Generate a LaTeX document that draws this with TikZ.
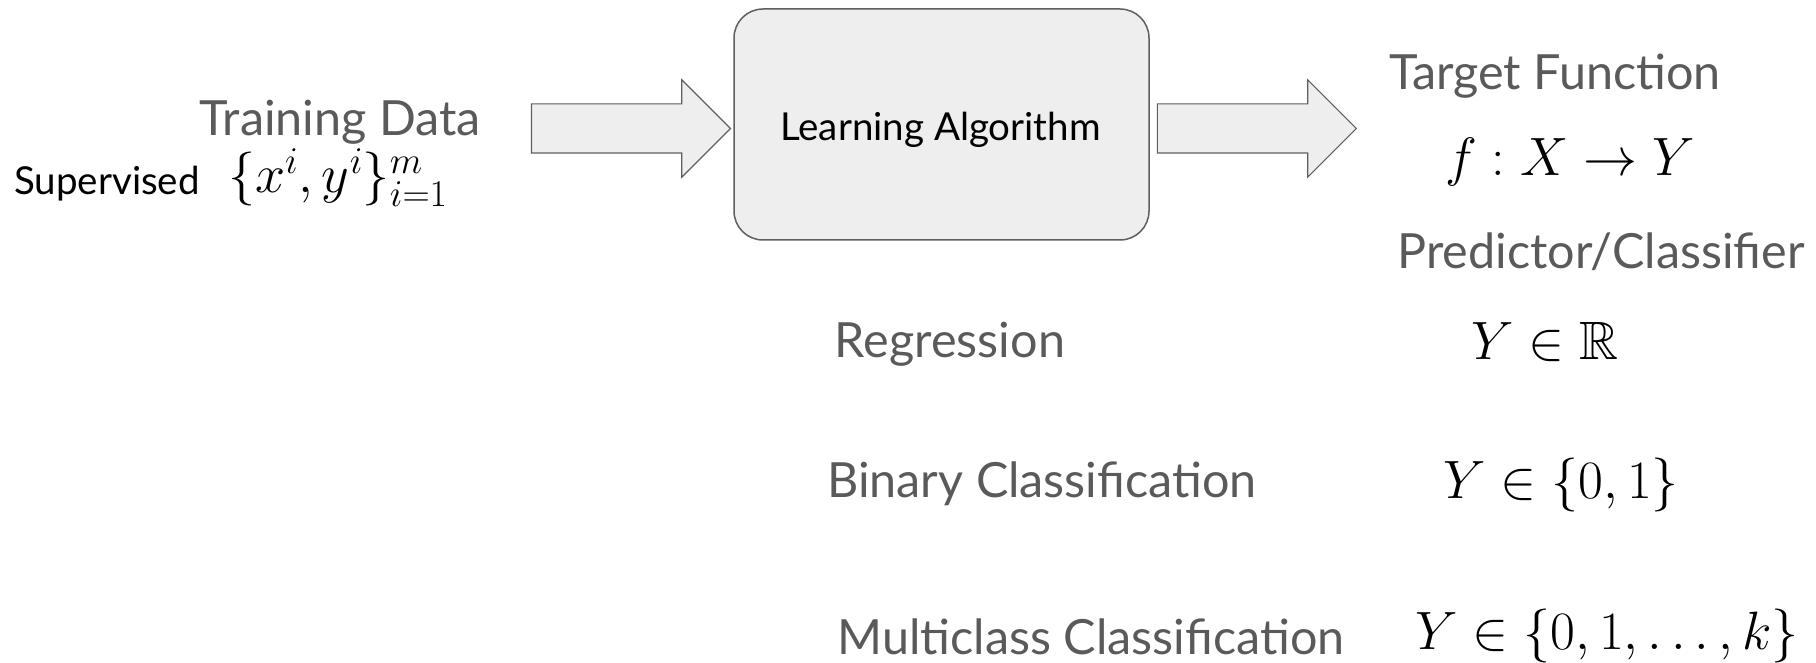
\RequirePackage{fix-cm}
\documentclass[tikz,border=0pt]{standalone}
\usepackage{amssymb}
\usepackage{fontspec}
\setmainfont{Lato}
\usetikzlibrary{shapes.arrows}

\definecolor{txtgray}{HTML}{5A5A5A}
\definecolor{boxfill}{HTML}{EEEEEE}
\definecolor{boxline}{HTML}{5F5F5F}

\tikzset{
  graylabel/.style={text=txtgray, font=\fontsize{48.5}{52}\selectfont, inner sep=0pt},
  blacklabel/.style={text=black, font=\fontsize{38.5}{42}\selectfont, inner sep=0pt},
  mathlabel/.style={font=\fontsize{54}{60}\selectfont, inner sep=0pt},
  algobox/.style={draw=boxline, fill=boxfill, rounded corners=29pt, line width=1.5pt,
    minimum width=415pt, minimum height=231pt},
  bigarrow/.style={single arrow, draw=boxline, fill=boxfill, line width=1.2pt,
    single arrow head extend=24pt, inner xsep=0pt, inner ysep=24pt, minimum height=199pt},
}

\begin{document}
\begin{tikzpicture}[x=1pt, y=-1pt]
    \useasboundingbox (0,0) rectangle (1816,663);
    % learning algorithm and the two block arrows
    \node[algobox] (algo) at (941.5,124.5) {};
    \node[blacklabel] (algotext) at ([xshift=-1pt, yshift=-5pt]algo.center) {Learning Algorithm};
    \node[bigarrow, anchor=tip] (inarrow) at ([xshift=-2pt, yshift=-4pt]algo.west) {};
    \node[bigarrow, anchor=tail] (outarrow) at ([xshift=7pt, yshift=-4pt]algo.east) {};
    % input side
    \node[graylabel, anchor=base] (traindata) at (340,136) {Training Data};
    \node[blacklabel, anchor=base west] (superv) at (14,195) {Supervised};
    \node[mathlabel, anchor=base west] (trainset) at (228,193) {$\{x^i, y^i\}_{i=1}^m$};
    % output side
    \node[graylabel, anchor=base] (target) at (1555,90) {Target Function};
    \node[mathlabel, anchor=base] (fmap) at (1570,176) {$f : X \to Y$};
    \node[graylabel, anchor=base] (predictor) at (1601,269) {Predictor/Classifier};
    % kinds of task
    \node[graylabel, anchor=base] (regr) at (950,357) {Regression};
    \node[mathlabel, anchor=base west] (yreal) at (1471,359) {$Y \in \mathbb{R}$};
    \node[graylabel, anchor=base] (binary) at (1042,497) {Binary Classification};
    \node[mathlabel, anchor=base west] (ybin) at (1443,498) {$Y \in \{0,1\}$};
    \node[graylabel, anchor=base] (multi) at (1091,654) {Multiclass Classification};
    \node[mathlabel, anchor=base west] (ymulti) at (1415,649) {$Y \in \{0,1,\ldots,k\}$};
\end{tikzpicture}
\end{document}
